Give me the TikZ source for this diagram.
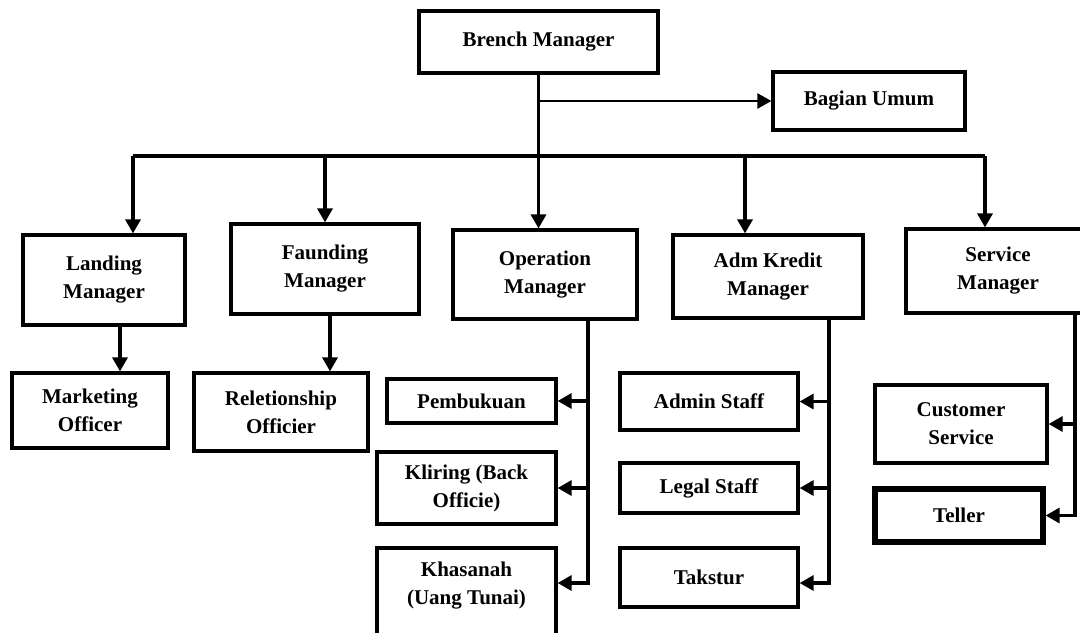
\documentclass[tikz,border=0pt]{standalone}
\usepackage{fontspec}
\setmainfont{Liberation Serif}
\usetikzlibrary{arrows.meta}
\begin{document}
\begin{tikzpicture}[x=0.5pt,y=0.5pt,yscale=-1,xscale=1,
    box/.style={draw,line width=1.6pt,rectangle,inner sep=0pt,align=center,font=\bfseries\fontsize{10.5}{14}\selectfont},
    boxtext/.style={inner sep=0pt,align=center,font=\bfseries\fontsize{10.5}{14}\selectfont},
    link/.style={line width=1.6pt},
    tip/.style={-{Triangle[length=7pt,width=7.5pt]}}]
  \useasboundingbox (0,0) rectangle (1080,632);
  \clip (0,0) rectangle (1080,632);

  % Top
  \node [box,minimum width=119.5pt,minimum height=31pt] (bm) at (538.5,42) {Brench Manager};
  \node [box,minimum width=96pt,minimum height=29pt] (bu) at (869,101) {Bagian Umum};

  % Managers
  \node [box,minimum width=81pt,minimum height=45pt] (lm) at (104,280) {Landing\\Manager};
  \node [box,minimum width=94pt,minimum height=45pt] (fm) at (325,269) {Faunding\\Manager};
  \node [box,minimum width=92pt,minimum height=44.5pt] (om) at (545,274.5) {Operation\\Manager};
  \node [box,minimum width=95pt,minimum height=41.5pt] (am) at (768,276.5) {Adm Kredit\\Manager};
  \node [box,minimum width=92pt,minimum height=42pt] (sm) at (998,271) {Service\\Manager};

  % Staff
  \node [box,minimum width=78pt,minimum height=37.5pt] (mo) at (90,410.5) {Marketing\\Officer};
  \node [box,minimum width=87pt,minimum height=39pt] (ro) at (281,412) {Reletionship\\Officier};
  \node [box,minimum width=84.5pt,minimum height=22pt] (pb) at (471.5,401) {Pembukuan};
  \node [box,minimum width=89.5pt,minimum height=36pt] (kl) at (466.5,488) {Kliring (Back\\Officie)};
  \node [box,minimum width=89.5pt,minimum height=51pt] (kh) at (466.5,599) {};
  \node [boxtext] (khtxt) at (466.5,586) {Khasanah\\(Uang Tunai)};
  \node [box,minimum width=89pt,minimum height=28.5pt] (as) at (709,401.5) {Admin Staff};
  \node [box,minimum width=89pt,minimum height=25pt] (ls) at (709,488) {Legal Staff};
  \node [box,minimum width=89pt,minimum height=29.5pt] (tk) at (709,577.5) {Takstur};
  \node [box,minimum width=86pt,minimum height=39pt] (cs) at (961,424) {Customer\\Service};
  \node [box,line width=2.6pt,minimum width=84pt,minimum height=26.5pt] (tl) at (959,515.5) {Teller};

  % Bus
  \coordinate (busL) at (133,156);
  \coordinate (busA) at (745,156);
  \coordinate (busR) at (985,156);
  \draw [link,tip] (bm.south) -- (bm.south |- om.north);
  \draw [line width=1.2pt,tip] (bm.south |- bu.west) -- (bu.west);
  \draw [link] (busL) -- (busR);
  \draw [link,tip] (busL) -- (busL |- lm.north);
  \draw [link,tip] (fm.north |- busL) -- (fm.north);
  \draw [link,tip] (busA) -- (busA |- am.north);
  \draw [link,tip] (busR) -- (busR |- sm.north);

  % Drops
  \coordinate (lmdrop) at (120,325);
  \coordinate (fmdrop) at (330,314);
  \coordinate (omdrop) at (588,319);
  \coordinate (amdrop) at (829,318);
  \coordinate (smdrop) at (1075,313);
  \draw [link,tip] (lmdrop) -- (lmdrop |- mo.north);
  \draw [link,tip] (fmdrop) -- (fmdrop |- ro.north);
  \draw [link,tip] (omdrop) |- (pb.east);
  \draw [link,tip] (omdrop) |- (kl.east);
  \draw [link,tip] (omdrop) |- (kh.east |- 0,583);
  \draw [link,tip] (amdrop) |- (as.east);
  \draw [link,tip] (amdrop) |- (ls.east);
  \draw [link,tip] (amdrop) |- (tk.east |- 0,583);
  \draw [link,tip] (smdrop) |- (cs.east);
  \draw [link,tip] (smdrop) |- (tl.east);
\end{tikzpicture}
\end{document}
